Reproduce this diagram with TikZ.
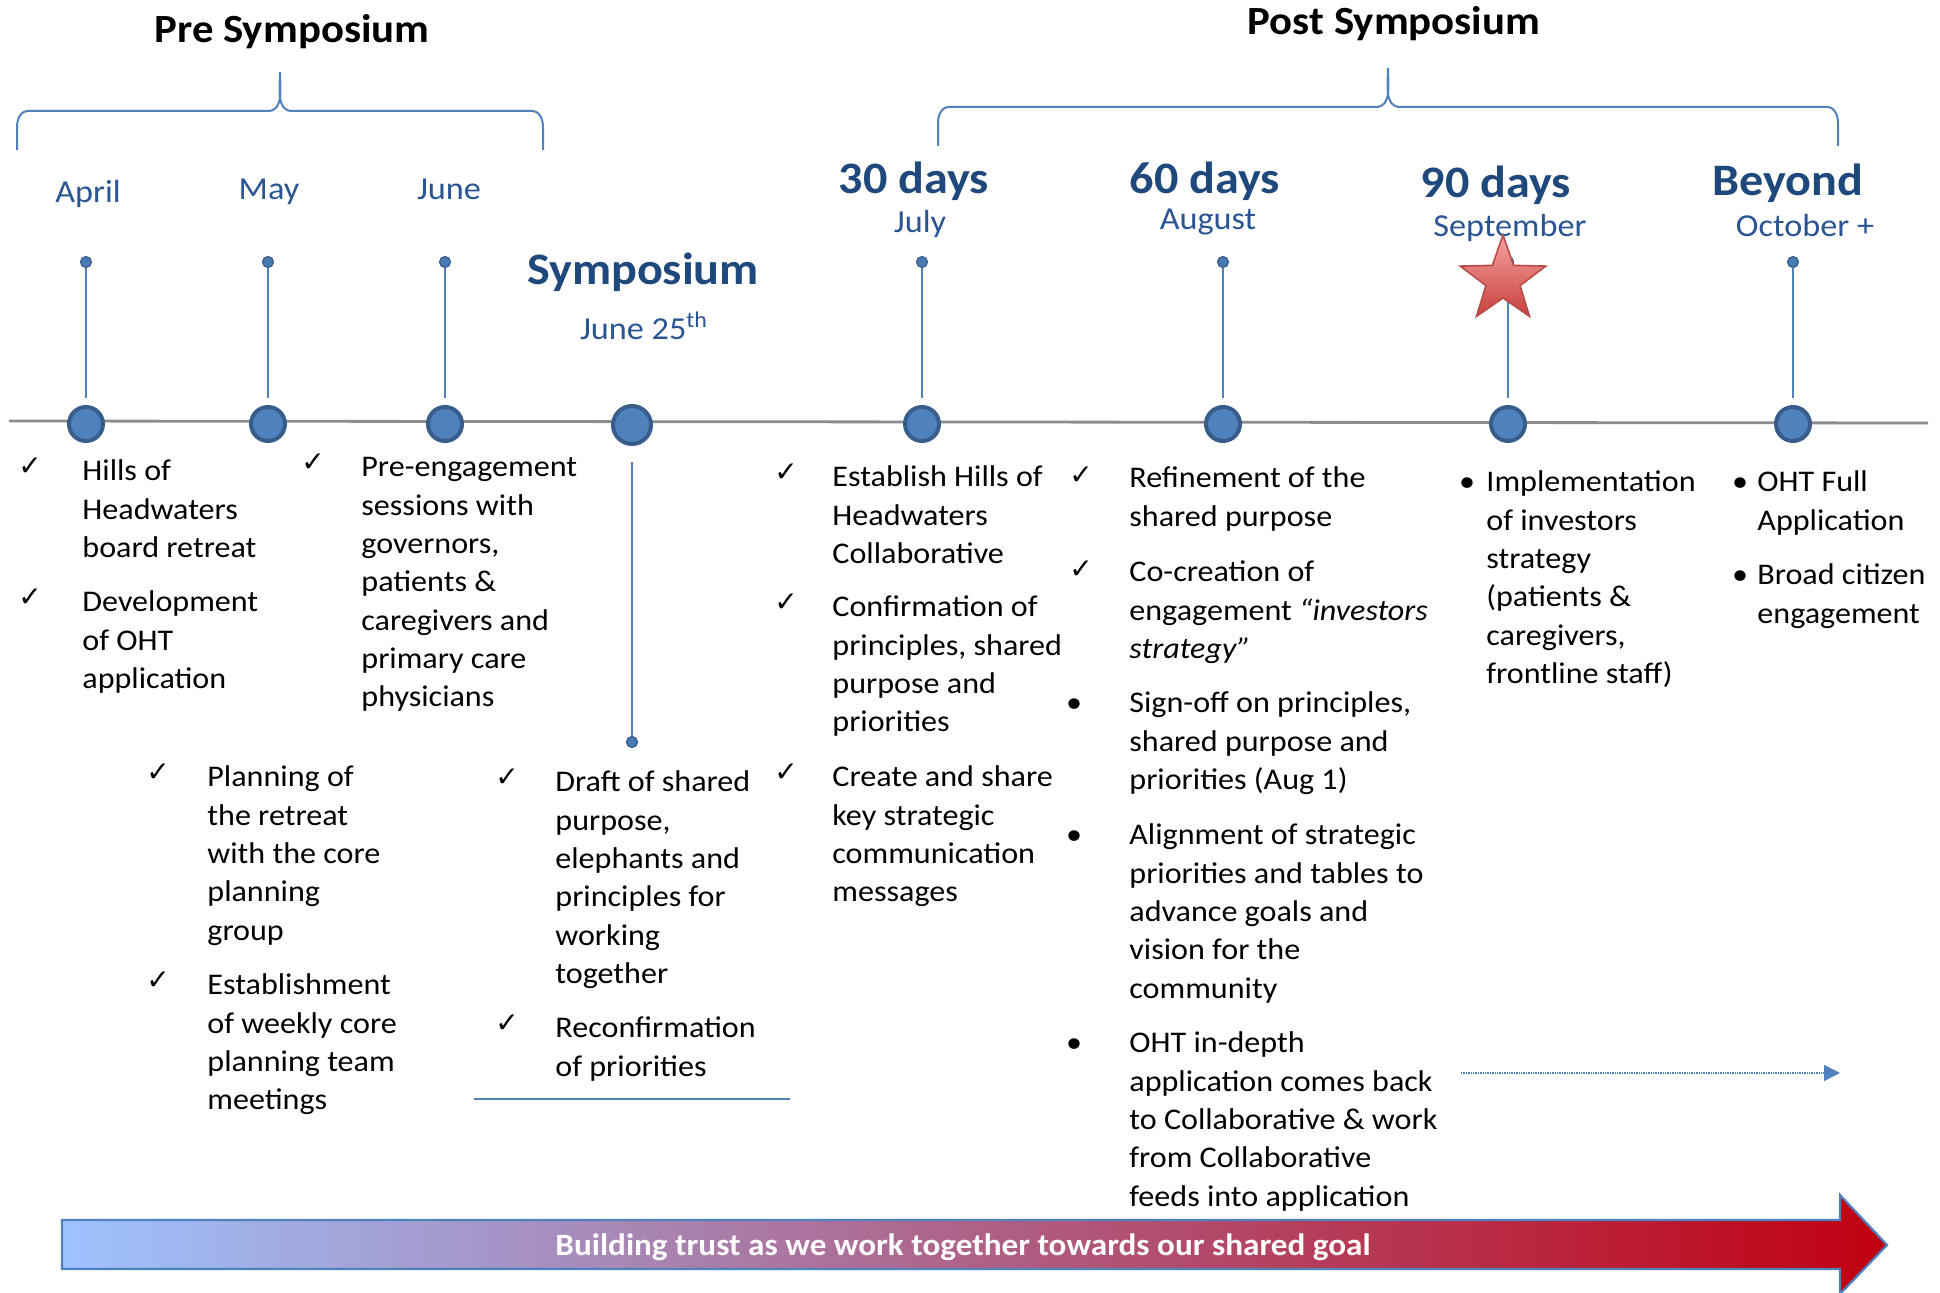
\documentclass[tikz,border=0pt]{standalone}
\usepackage{fontspec}
\setmainfont{Carlito}[FakeStretch=1.07]
\newfontfamily\symfont{DejaVu Sans}
\usetikzlibrary{arrows.meta}

\definecolor{tlblue}{HTML}{4F81BD}
\definecolor{tldark}{HTML}{385D8A}
\definecolor{headblue}{HTML}{1F497D}
\definecolor{monthblue}{HTML}{2A5592}
\definecolor{axisgray}{HTML}{8C8C8C}
\definecolor{arrowL}{HTML}{9DC3FF}
\definecolor{arrowM}{HTML}{B08BB8}
\definecolor{arrowR}{HTML}{C00010}
\definecolor{starT}{HTML}{F5A3A0}
\definecolor{starB}{HTML}{C8403C}
\definecolor{starE}{HTML}{B84A47}

% multi-line text block whose base is the first line
\newcommand{\txtblock}[1]{\parbox[t]{260pt}{#1}}

\tikzset{
  bigdot/.style={circle, fill=tlblue, draw=tldark, line width=2pt, minimum size=17pt, inner sep=0pt},
  symdot/.style={bigdot, minimum size=19pt},
  tipdot/.style={circle, fill=tlblue!80!tldark, draw=tldark, line width=0.6pt, minimum size=5.5pt, inner sep=0pt},
  stem/.style={draw=tlblue, line width=1.2pt},
  brace/.style={draw=tlblue, line width=1pt},
  title/.style={font=\fontsize{20}{24}\selectfont\bfseries, text=black, anchor=base, inner sep=0pt},
  period/.style={font=\fontsize{22.5}{27}\selectfont\bfseries, text=headblue, anchor=base, inner sep=0pt},
  month/.style={font=\fontsize{16}{19}\selectfont, text=monthblue, anchor=base, inner sep=0pt},
  body/.style={font=\fontsize{15}{19.15}\selectfont, text=black, anchor=base west, inner sep=0pt},
  chk/.style={font=\symfont\fontsize{14}{14}\selectfont, text=black, anchor=base, inner sep=0pt},
  bul/.style={font=\fontsize{15}{19.15}\selectfont, text=black, anchor=base, inner sep=0pt},
}

\begin{document}
\begin{tikzpicture}[x=0.5pt, y=-0.5pt]
\useasboundingbox (0,0) rectangle (1940,1293);

% ---------- section headings and braces ----------
\node[title] (pre) at (292,43) {Pre Symposium};
\node[title] (post) at (1394,35) {Post Symposium};

\draw[brace] (17,150) -- (17,127) to[out=90,in=180] (28,111) -- (268,111)
  to[out=0,in=-90] (280,72) to[out=-90,in=180] (292,111) -- (532,111)
  to[out=0,in=90] (543,127) -- (543,150);
\draw[brace] (938,146) -- (938,123) to[out=90,in=180] (949,107) -- (1376,107)
  to[out=0,in=-90] (1388,68) to[out=-90,in=180] (1400,107) -- (1827,107)
  to[out=0,in=90] (1838,123) -- (1838,146);

% ---------- period labels ----------
\node[month] (lapr) at (88,203) {April};
\node[month] (lmay) at (269,200) {May};
\node[month] (ljun) at (449,200) {June};

\node[font=\fontsize{22.5}{27}\selectfont\bfseries, text=headblue, anchor=base, inner sep=0pt] (lsym) at (643,285) {Symposium};
\node[month] (lsymd) at (644,340) {June 25\textsuperscript{th}};

\node[period] (l30) at (914,194) {30 days};
\node[period] (l60) at (1205,194) {60 days};
\node[period] (l90) at (1496,198) {90 days};
\node[period] (lbey) at (1788,196) {Beyond};
\node[month] (ljul) at (920,233) {July};
\node[month] (laug) at (1208,230) {August};
\node[month] (lsep) at (1510,237) {September};
\node[month] (loct) at (1805,237) {October +};

% ---------- timeline axis ----------
\coordinate (axL) at (9,421);
\coordinate (axR) at (1928,423);
\draw[axisgray, line width=1.4pt] (axL) -- (axR);

% small markers above the axis
\node[tipdot] (t1) at (86,262) {};
\node[tipdot] (t2) at (268,262) {};
\node[tipdot] (t3) at (445,262) {};
\node[tipdot] (t5) at (922,262) {};
\node[tipdot] (t6) at (1223,262) {};
\node[tipdot] (t7) at (1508,262) {};
\node[tipdot] (t8) at (1793,262) {};

% milestones on the axis
\node[bigdot] (m1) at (86,424) {};
\node[bigdot] (m2) at (268,424) {};
\node[bigdot] (m3) at (445,424) {};
\node[symdot] (m4) at (632,425) {};
\node[bigdot] (m5) at (922,424) {};
\node[bigdot] (m6) at (1223,424) {};
\node[bigdot] (m7) at (1508,424) {};
\node[bigdot] (m8) at (1793,424) {};

% symposium marker hangs below the axis
\node[tipdot] (t4) at (632,742) {};

\foreach \i in {1,2,3,5,6,7,8}{
  \draw[stem, shorten >=3.5pt] (t\i) -- (m\i);
}
\draw[stem, shorten <=8pt] (m4) -- (t4);

% star on the 90-day marker
\shade[top color=starT, bottom color=starB, draw=starE, line width=0.8pt]
  (1503,235) -- (1492.4,265.4) -- (1460.2,266.1) -- (1485.9,285.6) -- (1476.5,316.4)
  -- (1503,298) -- (1529.5,316.4) -- (1520.1,285.6) -- (1545.8,266.1) -- (1513.6,265.4) -- cycle;

% ---------- pre-symposium activities ----------
\node[chk] (ca1) at (30,476) {✓};
\node[body] (a1) at (82,481) {\txtblock{Hills of\\Headwaters\\board retreat}};
\node[chk] (ca2) at (30,607) {✓};
\node[body] (a2) at (82,612) {\txtblock{Development\\of OHT\\application}};

\node[chk] (cb1) at (313,472) {✓};
\node[body] (b1) at (361,477) {\txtblock{Pre-engagement\\sessions with\\governors,\\patients \&\\caregivers and\\primary care\\physicians}};

\node[chk] (cc1) at (158,782) {✓};
\node[body] (c1) at (207,787) {\txtblock{Planning of\\the retreat\\with the core\\planning\\group}};
\node[chk] (cc2) at (158,990) {✓};
\node[body] (c2) at (207,995) {\txtblock{Establishment\\of weekly core\\planning team\\meetings}};

\node[chk] (cd1) at (507,787) {✓};
\node[body] (d1) at (555,792) {\txtblock{Draft of shared\\purpose,\\elephants and\\principles for\\working\\together}};
\node[chk] (cd2) at (507,1033) {✓};
\node[body] (d2) at (555,1038) {\txtblock{Reconfirmation\\of priorities}};

\coordinate (u1) at (474,1099);
\coordinate (u2) at (790,1099);
\draw[tlblue, line width=1.3pt] (u1) -- (u2);

% ---------- post-symposium activities ----------
\node[chk] (ce1) at (786,482) {✓};
\node[body] (e1) at (832,487) {\txtblock{Establish Hills of\\Headwaters\\Collaborative}};
\node[chk] (ce2) at (786,612) {✓};
\node[body] (e2) at (832,617) {\txtblock{Confirmation of\\principles, shared\\purpose and\\priorities}};
\node[chk] (ce3) at (786,782) {✓};
\node[body] (e3) at (832,787) {\txtblock{Create and share\\key strategic\\communication\\messages}};

\node[chk] (cf1) at (1081,485) {✓};
\node[body] (f1) at (1129,488) {\txtblock{Refinement of the\\shared purpose}};
\node[chk] (cf2) at (1081,579) {✓};
\node[body] (f2) at (1129,582) {\txtblock{Co-creation of\\engagement \textit{“investors}\\\textit{strategy”}}};
\node[bul] (bf3) at (1074,713) {\textbullet};
\node[body] (f3) at (1129,713) {\txtblock{Sign-off on principles,\\shared purpose and\\priorities (Aug 1)}};
\node[bul] (bf4) at (1074,845) {\textbullet};
\node[body] (f4) at (1129,845) {\txtblock{Alignment of strategic\\priorities and tables to\\advance goals and\\vision for the\\community}};
\node[bul] (bf5) at (1074,1053) {\textbullet};
\node[body] (f5) at (1129,1053) {\txtblock{OHT in-depth\\application comes back\\to Collaborative \& work\\from Collaborative\\feeds into application}};

\node[bul] (bg1) at (1467,492) {\textbullet};
\node[body] (g1) at (1486,492) {\txtblock{Implementation\\of investors\\strategy\\(patients \&\\caregivers,\\frontline staff)}};

\node[bul] (bh1) at (1740,492) {\textbullet};
\node[body] (h1) at (1757,492) {\txtblock{OHT Full\\Application}};
\node[bul] (bh2) at (1740,585) {\textbullet};
\node[body] (h2) at (1757,585) {\txtblock{Broad citizen\\engagement}};

% continuation arrow
\coordinate (da1) at (1461,1073);
\coordinate (da2) at (1840,1073);
\draw[tlblue, line width=0.7pt, dash pattern=on 0.7pt off 0.5pt,
  -{Triangle[length=8pt,width=8pt]}] (da1) -- (da2);

% ---------- bottom banner arrow ----------
\draw[draw=tlblue, line width=1.1pt, left color=arrowL, middle color=arrowM, right color=arrowR]
  (62,1220) -- (1840,1220) -- (1840,1195) -- (1887,1245) -- (1840,1294)
  -- (1840,1269) -- (62,1269) -- cycle;
\node[font=\fontsize{15.5}{18}\selectfont\bfseries, text=white, anchor=base, inner sep=0pt]
  (goal) at (963,1255) {Building trust as we work together towards our shared goal};

\end{tikzpicture}
\end{document}
